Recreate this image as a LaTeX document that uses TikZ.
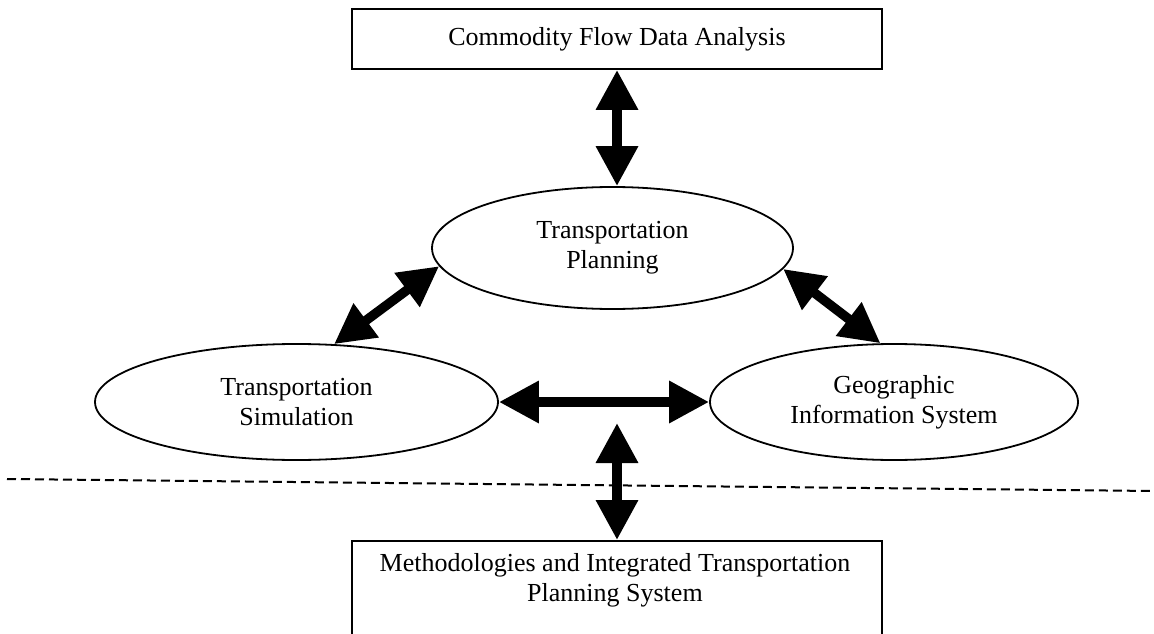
\documentclass[tikz,border=0pt]{standalone}
\usepackage{fontspec}
\setmainfont{Liberation Serif}
\usetikzlibrary{shapes.geometric,arrows.meta}
\tikzset{
  label text/.style={font=\fontsize{26}{30}\selectfont, align=center, inner sep=0pt},
  framebox/.style={draw, rectangle, line width=1.8pt, label text},
  oval/.style={draw, ellipse, line width=1.8pt, label text},
  twoway/.style={line width=9.5pt, {Triangle[width=40pt,length=40pt]}-{Triangle[width=40pt,length=40pt]}},
  divider/.style={line width=2pt, dash pattern=on 9pt off 5pt},
}
\begin{document}
\begin{tikzpicture}[x=1pt,y=-1pt]
\useasboundingbox (0,0) rectangle (1154,634);
% boxes and ellipses
\node[framebox, minimum width=530pt, minimum height=60pt] (flow) at (617,39) {Commodity Flow Data Analysis};
\node[oval, minimum width=361pt, minimum height=122pt] (plan) at (612.5,248) {Transportation\\Planning};
\node[oval, minimum width=403pt, minimum height=116pt] (sim) at (296.5,402) {Transportation\\Simulation};
\node[oval, minimum width=368pt, minimum height=116pt] (gis) at (894,402) {Geographic\\Information System};
\node[framebox, minimum width=530pt, minimum height=130pt, anchor=north] (meth) at (617,540) {};
\node[label text] (methtext) at (615,580) {Methodologies and Integrated Transportation\\Planning System};
% free end of the lower arrow and the dividing line
\coordinate (gap) at (617,423);
\coordinate (dashL) at (7,479);
\coordinate (dashR) at (1154,491);
\draw[divider] (dashL) -- (dashR);
% two-way links
\draw[twoway] (flow.south) -- (plan.north -| flow.south);
\draw[twoway] (plan.186.5) -- (sim.57);
\draw[twoway] (plan.353) -- (gis.103.6);
\draw[twoway] (sim.east) -- (gis.west);
\draw[twoway] (gap) -- (meth.north -| gap);
\end{tikzpicture}
\end{document}
